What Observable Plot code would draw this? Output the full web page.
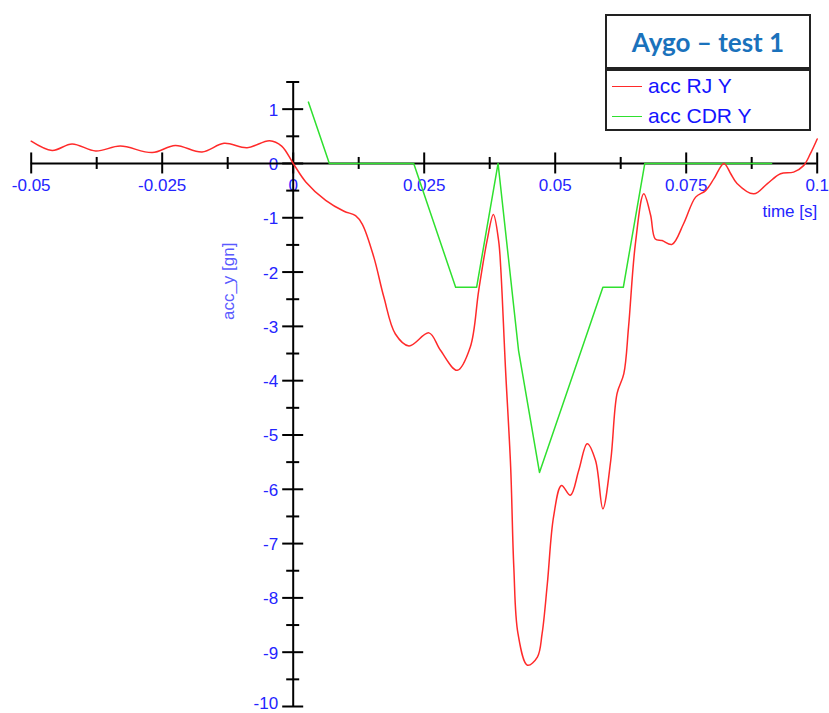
<!DOCTYPE html>
<html>
<head>
<meta charset="utf-8">
<script src="https://cdn.jsdelivr.net/npm/d3@7"></script>
<script src="https://cdn.jsdelivr.net/npm/@observablehq/plot@0.6"></script>
<style>
  html, body { margin: 0; padding: 0; background: #fff; }
  #wrap { position: relative; width: 829px; height: 713px; overflow: hidden; }
  #legend { position: absolute; left: 605px; top: 14px; width: 206px; font-family: "Liberation Sans", Arial, sans-serif; }
  #legend .title { height: 51px; border: 2px solid #222; display: flex; align-items: center; justify-content: center;
    font-family: Lato, "Open Sans", sans-serif; font-weight: bold; font-size: 26px; color: #1a72bc; }
  #legend .items { border: 2px solid #222; margin-top: 0; padding: 0; height: 58px; }
  #legend .row { display: flex; align-items: center; height: 30px; font-size: 21px; color: #1414ff; }
  #legend .sw { width: 30px; height: 0; border-top: 1.5px solid; margin: 0 6px 0 5px; }
</style>
</head>
<body>
<div id="wrap"></div>
<script>
// ---- data ----
const rjX = [-0.0500,-0.0460,-0.0422,-0.0377,-0.0330,-0.0269,-0.0225,-0.0174,-0.0132,-0.0088,-0.0045,-0.0022,
  0.0000,0.0024,0.0062,0.0097,0.0119,0.0132,0.0154,0.0173,0.0195,0.0221,0.0259,0.0281,0.0313,0.0338,0.0354,
  0.0370,0.0382,0.0392,0.0396,0.0405,0.0415,0.0421,0.0429,0.0447,0.0466,0.0475,0.0485,0.0497,0.0512,0.0529,
  0.0545,0.0561,0.0577,0.0591,0.0606,0.0618,0.0631,0.0640,0.0653,0.0669,0.0682,0.0691,0.0704,0.0723,0.0745,
  0.0768,0.0787,0.0803,0.0822,0.0835,0.0847,0.0879,0.0905,0.0930,0.0955,0.0974,0.0987,0.1000];
const rjY = [0.41,0.24,0.36,0.23,0.32,0.20,0.33,0.21,0.37,0.29,0.42,0.32,
  0.00,-0.34,-0.68,-0.88,-0.96,-1.12,-1.73,-2.46,-3.14,-3.36,-3.12,-3.44,-3.81,-3.38,-2.34,
  -1.42,-0.94,-1.42,-1.91,-3.75,-5.59,-7.43,-8.66,-9.24,-9.09,-8.66,-7.74,-6.50,-5.93,-6.11,
  -5.65,-5.16,-5.47,-6.36,-5.47,-4.24,-3.87,-3.01,-1.48,-0.56,-0.95,-1.39,-1.42,-1.49,-1.11,
  -0.62,-0.50,-0.28,0.00,-0.19,-0.37,-0.56,-0.37,-0.19,-0.16,-0.04,0.18,0.45];

const cdrX = [0.0029,0.0069,0.0230,0.0310,0.0350,0.0391,0.0430,0.0470,0.0591,0.0630,0.0671,0.0913];
const cdrY = [1.13,0,0,-2.28,-2.28,0,-3.44,-5.69,-2.28,-2.28,0,0];

const xMajor = [-0.05,-0.025,0,0.025,0.05,0.075,0.1];
const xLabels = ["-0.05","-0.025","0","0.025","0.05","0.075","0.1"];
const xMinor = [-0.0375,-0.0125,0.0125,0.0375,0.0625,0.0875];
const yMajor = [-9,-8,-7,-6,-5,-4,-3,-2,-1,0,1];
const yLabels = ["-9","-8","-7","-6","-5","-4","-3","-2","-1","0","1"];
const yBottom = [-10];
const yBottomLabel = ["-10"];
const yMinor = [-9.5,-8.5,-7.5,-6.5,-5.5,-4.5,-3.5,-2.5,-1.5,-0.5,0.5,1.5];

const seriesNames = ["acc RJ Y","acc CDR Y"];
const seriesColors = ["#ff2a2a","#2fe02f"];
const chartTitle = "Aygo – test 1";

const rj = rjX.map((x,i)=>({x, y: rjY[i]}));
const cdr = cdrX.map((x,i)=>({x, y: cdrY[i]}));
const xTickRows = xMajor.map((v,i)=>({v, t: xLabels[i]}));
const yTickRows = yMajor.map((v,i)=>({v, t: yLabels[i]}));
const yBottomRows = yBottom.map((v,i)=>({v, t: yBottomLabel[i]}));

const tickColor = "#2424ff";
const plot = Plot.plot({
  width: 829, height: 713,
  marginLeft: 30.7, marginRight: 12.3, marginTop: 81.5, marginBottom: 7,
  style: {fontFamily: "'Liberation Sans', Arial, sans-serif", background: "white"},
  x: {domain: [-0.05, 0.1], axis: null},
  y: {domain: [-10, 1.5], axis: null},
  marks: [
    // tick labels
    Plot.text(xTickRows, {x: "v", y: 0, text: "t", dy: 22, fill: tickColor, fontSize: 17}),
    Plot.text(yTickRows, {x: 0, y: "v", text: "t", dx: -15, dy: 1, textAnchor: "end", fill: tickColor, fontSize: 17}),
    Plot.text(yBottomRows, {x: 0, y: "v", text: "t", dx: -15, dy: -3, textAnchor: "end", fill: tickColor, fontSize: 17}),
    Plot.text(["time [s]"], {x: 0.1, y: 0, text: d=>d, dy: 48, textAnchor: "end", fill: tickColor, fontSize: 17}),
    Plot.text(["acc_y [gn]"], {x: 0, y: -2.17, text: d=>d, dx: -65, rotate: -90, fill: "#5a5aff", fontSize: 17}),
    // axes
    Plot.ruleY([0], {x1: -0.05, x2: 0.1, stroke: "black", strokeWidth: 2}),
    Plot.ruleX([0], {y1: -10, y2: 1.5, stroke: "black", strokeWidth: 2}),
    Plot.ruleX(xMajor, {x: d=>d, y1: 0, y2: 0, insetTop: -10.5, insetBottom: -10.5, stroke: "black", strokeWidth: 2}),
    Plot.ruleX(xMinor, {x: d=>d, y1: 0, y2: 0, insetTop: -6, insetBottom: -6, stroke: "black", strokeWidth: 2}),
    Plot.ruleY(yMajor.concat(yBottom), {y: d=>d, x1: 0, x2: 0, insetLeft: -10.5, insetRight: -10.5, stroke: "black", strokeWidth: 2}),
    Plot.ruleY(yMinor, {y: d=>d, x1: 0, x2: 0, insetLeft: -6.5, insetRight: -6.5, stroke: "black", strokeWidth: 2}),
    // series
    Plot.line(cdr, {x: "x", y: "y", stroke: seriesColors[1], strokeWidth: 1.5}),
    Plot.line(rj, {x: "x", y: "y", stroke: seriesColors[0], strokeWidth: 1.5, curve: "catmull-rom"})
  ]
});

const wrap = document.getElementById("wrap");
wrap.appendChild(plot);

const legend = document.createElement("div");
legend.id = "legend";
const title = document.createElement("div");
title.className = "title";
title.textContent = chartTitle;
legend.appendChild(title);
const items = document.createElement("div");
items.className = "items";
seriesNames.forEach((n,i)=>{
  const row = document.createElement("div");
  row.className = "row";
  const sw = document.createElement("span");
  sw.className = "sw";
  sw.style.borderTopColor = seriesColors[i];
  const lab = document.createElement("span");
  lab.textContent = n;
  row.appendChild(sw); row.appendChild(lab);
  items.appendChild(row);
});
legend.appendChild(items);
wrap.appendChild(legend);
</script>
</body>
</html>
